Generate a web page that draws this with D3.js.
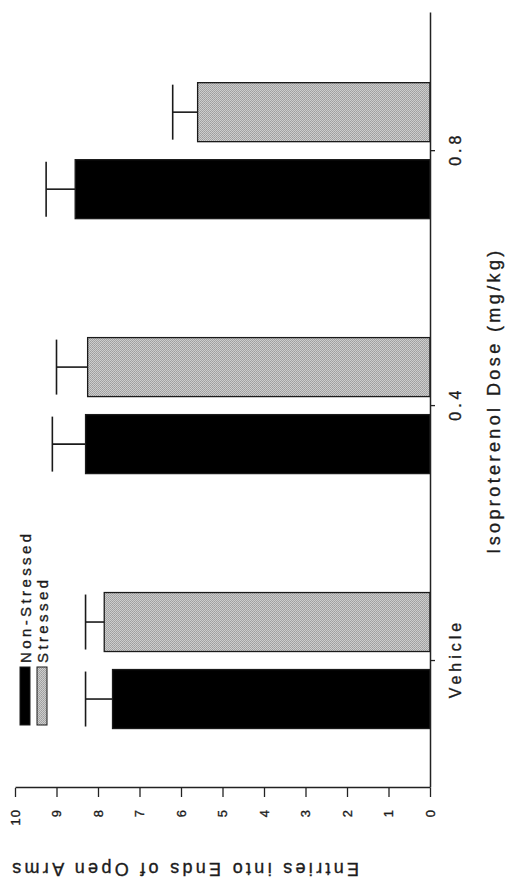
<!DOCTYPE html>
<html>
<head>
<meta charset="utf-8">
<script src="https://cdn.jsdelivr.net/npm/d3@7"></script>
<style>
  html, body { margin: 0; padding: 0; background: #ffffff; }
  svg { display: block; }
  text { font-family: "Liberation Sans", Arial, Helvetica, sans-serif; fill: #1c1c1c; stroke: #1c1c1c; stroke-width: 0.35px; }
</style>
</head>
<body>
<svg id="chart" width="509" height="884"></svg>
<script>
// Entries into ends of open arms by isoproterenol dose
const categories = ["Vehicle", "0.4", "0.8"];
const groups = ["Non-Stressed", "Stressed"];
const nonStressedMean = [7.65, 8.3, 8.55];
const nonStressedSEM = [0.65, 0.8, 0.7];
const stressedMean = [7.85, 8.25, 5.6];
const stressedSEM = [0.45, 0.75, 0.6];
const valueTicks = [0, 1, 2, 3, 4, 5, 6, 7, 8, 9, 10];
const xTitle = "Isoproterenol Dose (mg/kg)";
const yTitle = "Entries into Ends of Open Arms";

const W = 509, H = 884;
const svg = d3.select("#chart");

// Shaded halftone fill for the stressed group
const defs = svg.append("defs");
const pat = defs.append("pattern")
  .attr("id", "halftone")
  .attr("patternUnits", "userSpaceOnUse")
  .attr("width", 2).attr("height", 2);
pat.append("rect").attr("width", 2).attr("height", 2).attr("fill", "#cdcdcd");
pat.append("rect").attr("width", 1).attr("height", 1).attr("fill", "#9e9e9e");
pat.append("rect").attr("x", 1).attr("y", 1).attr("width", 1).attr("height", 1).attr("fill", "#a6a6a6");

const fills = { "Non-Stressed": "#000000", "Stressed": "url(#halftone)" };

// The figure is laid out on its side: draw in a H x W frame, then turn it.
const g = svg.append("g").attr("transform", `translate(0,${H}) rotate(-90)`);

const x0 = d3.scaleBand().domain(categories).range([96, 871])
  .paddingInner(0).paddingOuter(0.02).align(0);
const x1 = d3.scaleBand().domain(groups).range([-68, 68]).paddingInner(0.234);
const y = d3.scaleLinear().domain([0, 10]).range([430, 15]);

const rows = [];
categories.forEach((c, i) => {
  rows.push({ cat: c, grp: "Non-Stressed", mean: nonStressedMean[i], sem: nonStressedSEM[i] });
  rows.push({ cat: c, grp: "Stressed", mean: stressedMean[i], sem: stressedSEM[i] });
});
const cx = d => x0(d.cat) + x0.bandwidth() / 2;

// Error bars (upper SEM only)
const eb = g.append("g").attr("stroke", "#1a1a1a").attr("stroke-width", 1.6);
eb.selectAll("line.stem").data(rows).join("line").attr("class", "stem")
  .attr("x1", d => cx(d) + x1(d.grp) + x1.bandwidth() / 2)
  .attr("x2", d => cx(d) + x1(d.grp) + x1.bandwidth() / 2)
  .attr("y1", d => y(d.mean)).attr("y2", d => y(d.mean + d.sem));
eb.selectAll("line.cap").data(rows).join("line").attr("class", "cap")
  .attr("x1", d => cx(d) + x1(d.grp) + 2)
  .attr("x2", d => cx(d) + x1(d.grp) + x1.bandwidth() - 2)
  .attr("y1", d => y(d.mean + d.sem)).attr("y2", d => y(d.mean + d.sem));

// Bars
g.append("g").selectAll("rect").data(rows).join("rect")
  .attr("x", d => cx(d) + x1(d.grp))
  .attr("width", x1.bandwidth())
  .attr("y", d => y(d.mean))
  .attr("height", d => y(0) - y(d.mean))
  .attr("fill", d => fills[d.grp])
  .attr("stroke", "#1a1a1a").attr("stroke-width", 1.3);

// Category axis
const xAxis = g.append("g").attr("transform", `translate(0,${y(0)})`)
  .call(d3.axisBottom(x0).tickSize(5).tickSizeOuter(0).tickPadding(15));
xAxis.select(".domain").attr("stroke", "#222").attr("stroke-width", 1.5);
xAxis.selectAll(".tick line").attr("stroke", "#222").attr("stroke-width", 1.3);
xAxis.selectAll(".tick text").attr("font-size", 16).attr("letter-spacing", 4)
  .attr("dx", 2).style("fill", "#1c1c1c");

// Value axis
const yAxis = g.append("g").attr("transform", `translate(${x0.range()[0]},0)`)
  .call(d3.axisLeft(y).tickValues(valueTicks).tickSize(9).tickSizeOuter(0).tickPadding(12));
yAxis.select(".domain").attr("stroke", "#222").attr("stroke-width", 1.5);
yAxis.selectAll(".tick line").attr("stroke", "#222").attr("stroke-width", 1.3);
yAxis.selectAll(".tick text").attr("font-size", 13).attr("letter-spacing", 1).style("fill", "#1c1c1c");

// Axis titles
g.append("text")
  .attr("x", (x0.range()[0] + x0.range()[1]) / 2).attr("y", 500)
  .attr("text-anchor", "middle").attr("font-size", 18).attr("letter-spacing", 3.4)
  .text(xTitle);
g.append("text")
  .attr("transform", `translate(21,184) rotate(-90)`)
  .attr("text-anchor", "middle").attr("font-size", 18).attr("letter-spacing", 3.3)
  .text(yTitle);

// Legend
const leg = g.append("g").attr("transform", "translate(159,20)");
groups.forEach((grp, i) => {
  const row = leg.append("g").attr("transform", `translate(0,${i * 17})`);
  row.append("rect").attr("width", 58).attr("height", 10)
    .attr("fill", fills[grp]).attr("stroke", "#1a1a1a").attr("stroke-width", 1);
  row.append("text").attr("x", 62).attr("y", 10.5)
    .attr("font-size", 15).attr("letter-spacing", 3.4).text(grp);
});
</script>
</body>
</html>
